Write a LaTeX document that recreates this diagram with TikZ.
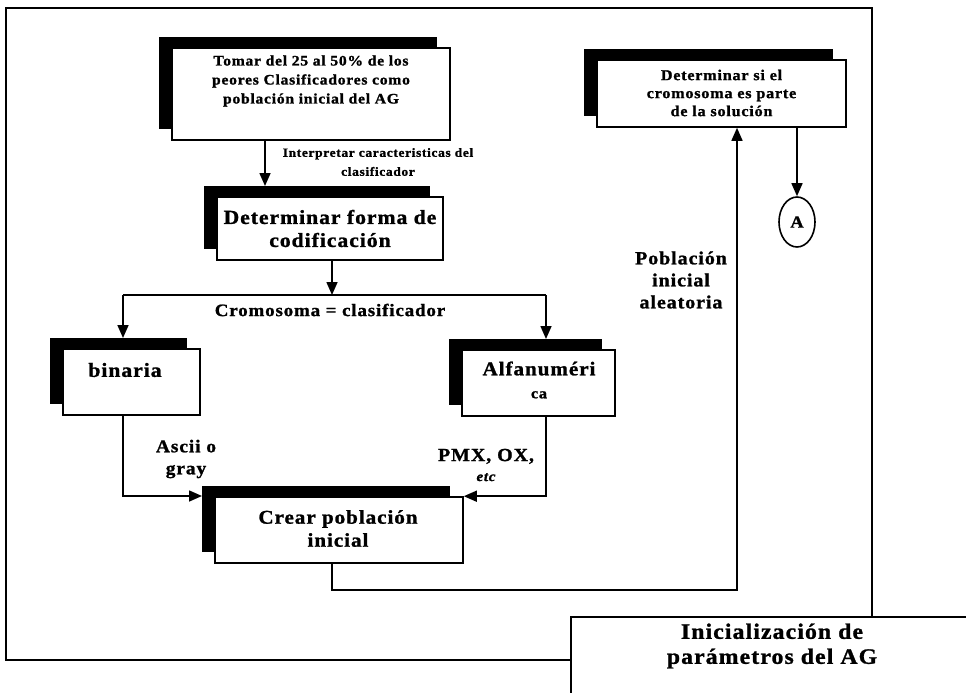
\documentclass[tikz,border=0pt]{standalone}
\usepackage{fontspec}
\setmainfont{Liberation Serif}[LetterSpace=5,FakeStretch=1.08,
  BoldFeatures={FakeBold=1.2},BoldItalicFeatures={FakeBold=1.2}]
\usetikzlibrary{arrows.meta,shadows,shapes.geometric}
\begin{document}
\begin{tikzpicture}[x=1pt,y=-1pt,
  wbox/.style={draw=black,line width=1.6pt,fill=white,inner sep=0pt,
    general shadow={fill=black,shadow xshift=-13pt,shadow yshift=11pt}},
  txt/.style={align=center,inner sep=0pt},
  fs/.style 2 args={font=\bfseries\fontsize{#1}{#2}\selectfont},
  conn/.style={line width=1.6pt},
  arr/.style={conn,-{Triangle[length=13pt,width=11pt]}},
]
\useasboundingbox (0,0) rectangle (966,693);

% outer frame and title tab
\draw[conn] (571,660) -- (6,660) -- (6,8) -- (872,8) -- (872,617);
\draw[conn] (571,700) -- (571,617) -- (975,617);
\node[txt,fs={22}{25}] (title) at (772,646) {Inicialización de\\parámetros del AG};

% process boxes
\node[wbox,minimum width=278pt,minimum height=92pt] (b1) at (311,94) {};
\node[txt,fs={14.5}{19}] (b1t) at (311,81) {Tomar del 25 al 50\% de los\\peores Clasificadores como\\población inicial del AG};

\node[wbox,minimum width=249pt,minimum height=67pt] (rb) at (721.5,93.5) {};
\node[txt,fs={15}{18}] (rbt) at (721.5,93) {Determinar si el\\cromosoma es parte\\de la solución};

\node[wbox,minimum width=226pt,minimum height=63pt] (b2) at (330,228.5) {};
\node[txt,fs={20}{23}] (b2t) at (330,228.5) {Determinar forma de\\codificación};

\node[wbox,minimum width=137pt,minimum height=66pt] (bin) at (131.5,382) {};
\node[txt,fs={20}{22}] (bint) at (125,370) {binaria};

\node[wbox,minimum width=153pt,minimum height=66pt] (alf) at (538.5,383) {};
\node[txt,fs={19.5}{23}] (alft) at (539,380) {Alfanuméri\\\fontsize{15}{23}\selectfont ca};

\node[wbox,minimum width=248pt,minimum height=66pt] (cr) at (339,530) {};
\node[txt,fs={19.5}{23}] (crt) at (338,528.5) {Crear población\\inicial};

\node[draw,line width=1.6pt,ellipse,minimum width=36pt,minimum height=50pt,inner sep=0pt,
  fs={17}{18}] (A) at (797,222) {A};

% edge labels
\node[txt,fs={12.5}{19}] (l1) at (378,162) {Interpretar caracteristicas del\\clasificador};
\node[txt,fs={17.5}{20}] (l2) at (330,310) {Cromosoma = clasificador};
\node[txt,fs={18}{22}] (l3) at (186,459) {Ascii o\\gray};
\node[txt,fs={18.5}{20}] (l4) at (486,465) {PMX, OX,\\\fontsize{14}{20}\selectfont\itshape etc};
\node[txt,fs={18.5}{22}] (l5) at (681,280) {Población\\inicial\\aleatoria};

% junction and bend points
\coordinate (c1) at (265,186);
\coordinate (sp) at (332,295);
\coordinate (spL) at (123,295);
\coordinate (spR) at (546,295);
\coordinate (binIn) at (123,338);
\coordinate (alfIn) at (546,339);
\coordinate (crIn) at (202,496);
\coordinate (crOut) at (332,590);
\coordinate (up) at (737,590);

% connectors
\draw[arr] (b1.south -| c1) -- (c1);
\draw[arr] (b2.south -| sp) -- (sp);
\draw[conn] (spL) -- (spR);
\draw[arr] (spL) -- (binIn);
\draw[arr] (spR) -- (alfIn);
\draw[arr] (bin.south -| spL) -- (spL |- crIn) -- (crIn);
\draw[arr] (alf.south -| spR) -- (spR |- cr.north east) -- (cr.north east);
\draw[arr] (cr.south -| crOut) -- (crOut) -- (up) -- (up |- rb.south);
\draw[arr] (rb.south -| A) -- (A.north);
\end{tikzpicture}
\end{document}
